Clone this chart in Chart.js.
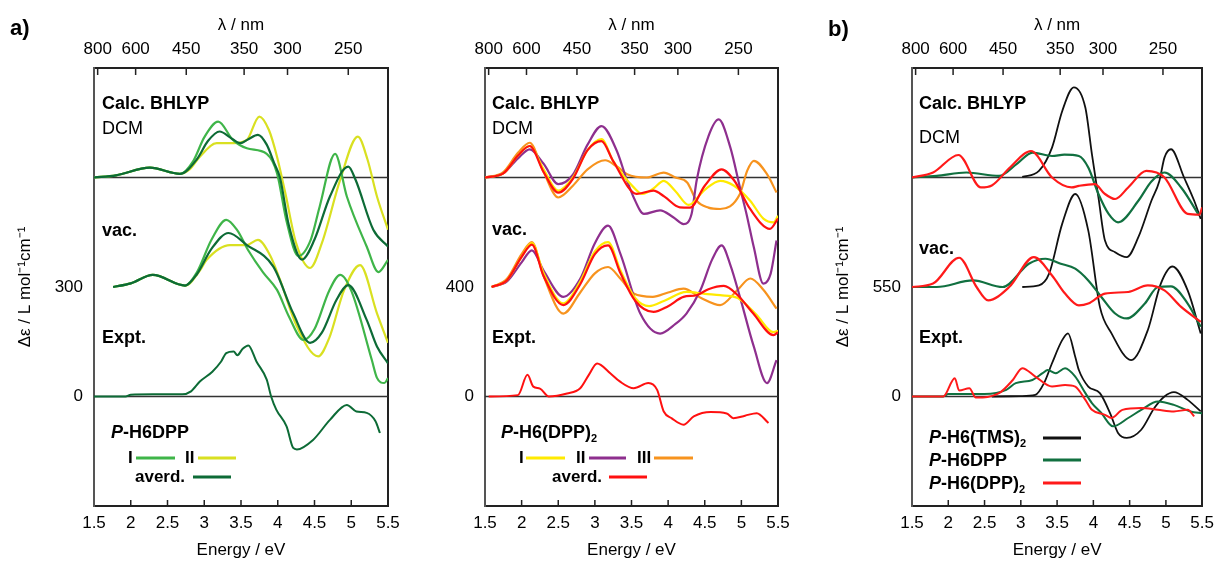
<!DOCTYPE html>
<html>
<head>
<meta charset="utf-8">
<script src="https://cdn.jsdelivr.net/npm/chart.js@4.4.0/dist/chart.umd.min.js"></script>
<style>
html,body{margin:0;padding:0;background:#fff;}
#wrap{position:relative;width:1221px;height:561px;overflow:hidden;font-family:'Liberation Sans',Arial,sans-serif;color:#000;}
canvas{position:absolute;top:0;}
.t{position:absolute;line-height:1;transform:translateY(-50%);white-space:nowrap;font-size:18px;}
.b{font-weight:bold;}
.s{font-size:17px;}
.ln{position:absolute;height:3px;transform:translateY(-50%);}
sub{font-size:11px;vertical-align:-4px;line-height:0;}
</style>
</head>
<body>
<div id="wrap">
  <canvas id="cA" width="420" height="561" style="left:0"></canvas>
  <canvas id="cB" width="380" height="561" style="left:420px"></canvas>
  <canvas id="cC" width="421" height="561" style="left:800px"></canvas>

  <div class="t b" style="left:10px;top:28px;font-size:22px">a)</div>
  <div class="t b" style="left:828px;top:29px;font-size:22px">b)</div>

  <!-- panel a -->
  <div class="t b" style="left:102px;top:103px">Calc. BHLYP</div>
  <div class="t" style="left:102px;top:128px">DCM</div>
  <div class="t b" style="left:102px;top:230px">vac.</div>
  <div class="t b" style="left:102px;top:337px">Expt.</div>
  <div class="t b" style="left:111px;top:432px"><i>P</i>-H6DPP</div>
  <div class="t b s" style="left:128px;top:457px">I</div>
  <div class="ln" style="left:136px;top:458px;width:39px;background:#3fb549"></div>
  <div class="t b s" style="left:185px;top:457px">II</div>
  <div class="ln" style="left:198px;top:458px;width:38px;background:#d9e021"></div>
  <div class="t b s" style="left:135px;top:476px">averd.</div>
  <div class="ln" style="left:193px;top:477px;width:38px;background:#0d6b36"></div>

  <!-- panel b middle -->
  <div class="t b" style="left:492px;top:103px">Calc. BHLYP</div>
  <div class="t" style="left:492px;top:128px">DCM</div>
  <div class="t b" style="left:492px;top:229px">vac.</div>
  <div class="t b" style="left:492px;top:337px">Expt.</div>
  <div class="t b" style="left:501px;top:432px"><i>P</i>-H6(DPP)<sub>2</sub></div>
  <div class="t b s" style="left:519px;top:457px">I</div>
  <div class="ln" style="left:526px;top:458px;width:39px;background:#ffea00"></div>
  <div class="t b s" style="left:576px;top:457px">II</div>
  <div class="ln" style="left:589px;top:458px;width:37px;background:#8e2f8e"></div>
  <div class="t b s" style="left:637px;top:457px">III</div>
  <div class="ln" style="left:654px;top:458px;width:39px;background:#f7931e"></div>
  <div class="t b s" style="left:552px;top:476px">averd.</div>
  <div class="ln" style="left:609px;top:477px;width:38px;background:#ff1010"></div>

  <!-- panel b right -->
  <div class="t b" style="left:919px;top:103px">Calc. BHLYP</div>
  <div class="t" style="left:919px;top:137px">DCM</div>
  <div class="t b" style="left:919px;top:248px">vac.</div>
  <div class="t b" style="left:919px;top:337px">Expt.</div>
  <div class="t b" style="left:929px;top:437px"><i>P</i>-H6(TMS)<sub>2</sub></div>
  <div class="ln" style="left:1043px;top:438px;width:38px;background:#111"></div>
  <div class="t b" style="left:929px;top:460px"><i>P</i>-H6DPP</div>
  <div class="ln" style="left:1043px;top:460px;width:38px;background:#117040"></div>
  <div class="t b" style="left:929px;top:483px"><i>P</i>-H6(DPP)<sub>2</sub></div>
  <div class="ln" style="left:1043px;top:483px;width:38px;background:#ff1a1a"></div>
</div>

<script>
// ── axes ──────────────────────────────────────────────────────────────
const energyTicks = [1.5, 2, 2.5, 3, 3.5, 4, 4.5, 5, 5.5];
const lambdaTicks = [800, 600, 450, 350, 300, 250];
const HC = 1239.84;  // eV*nm

// ── panel a: P-H6DPP  ([energy eV, Δε]) ───────────────────────────────
const aDcmI   = [[1.5,600],[1.8,606],[2.26,627],[2.67,610],[2.85,645],[3.0,710],[3.19,753],[3.39,703],[3.58,680],[3.85,665],[3.99,612],[4.12,480],[4.28,385],[4.45,430],[4.57,520],[4.78,665],[4.94,548],[5.21,411],[5.37,341],[5.5,374]];
const aDcmII  = [[1.5,600],[1.8,606],[2.26,627],[2.67,610],[2.8,622],[2.94,657],[3.17,694],[3.40,694],[3.58,703],[3.75,767],[3.88,730],[3.99,657],[4.1,560],[4.25,420],[4.44,352],[4.6,420],[4.85,594],[5.09,712],[5.22,650],[5.35,548],[5.5,457]];
const aDcmAvg = [[1.5,600],[1.8,606],[2.26,627],[2.67,610],[2.9,650],[3.05,700],[3.21,726],[3.35,710],[3.49,694],[3.6,705],[3.73,717],[3.85,690],[3.95,640],[4.03,600],[4.15,470],[4.33,375],[4.5,430],[4.71,548],[4.96,630],[5.06,593],[5.30,457],[5.5,411]];
const aVacI   = [[1.76,300],[2.0,310],[2.30,333],[2.74,304],[2.9,340],[3.1,430],[3.30,484],[3.45,455],[3.6,400],[3.8,340],[3.99,292],[4.15,220],[4.35,155],[4.5,185],[4.7,290],[4.85,333],[5.0,290],[5.28,100],[5.35,51],[5.45,37],[5.5,50]];
const aVacII  = [[1.76,300],[2.0,310],[2.30,333],[2.74,304],[2.94,345],[3.03,374],[3.35,415],[3.58,415],[3.73,429],[3.9,385],[4.03,320],[4.26,192],[4.55,110],[4.7,160],[4.9,290],[5.12,360],[5.35,228],[5.5,147]];
const aVacAvg = [[1.76,300],[2.0,310],[2.30,333],[2.74,304],[2.9,335],[3.1,405],[3.33,448],[3.58,415],[3.94,356],[4.21,228],[4.44,147],[4.6,175],[4.8,265],[4.96,305],[5.21,210],[5.35,137],[5.5,91]];
const aExpt   = [[1.5,0],[1.93,0],[2.0,5],[2.3,6],[2.7,6],[2.82,14],[2.94,41],[3.11,68],[3.23,96],[3.30,119],[3.40,123],[3.45,113],[3.52,130],[3.60,140],[3.71,96],[3.85,46],[3.91,0],[3.98,-36],[4.12,-82],[4.21,-141],[4.26,-145],[4.48,-119],[4.71,-64],[4.94,-23],[5.07,-41],[5.21,-45],[5.33,-68],[5.39,-100]];
const aBaselines = [0, 600];
const aYTicks = [0, 300];

// ── panel b (middle): P-H6(DPP)2 ──────────────────────────────────────
const bDcmI   = [[1.5,800],[1.75,815],[1.95,880],[2.11,915],[2.3,830],[2.50,752],[2.7,800],[2.9,900],[3.09,940],[3.25,860],[3.53,764],[3.65,740],[3.80,760],[3.94,788],[4.1,750],[4.28,700],[4.5,755],[4.71,788],[4.9,770],[5.12,715],[5.3,650],[5.44,636],[5.5,660]];
const bDcmII  = [[1.5,800],[1.75,815],[1.95,870],[2.11,903],[2.3,850],[2.50,776],[2.7,810],[2.9,920],[3.09,988],[3.30,897],[3.44,788],[3.53,727],[3.67,667],[3.89,680],[4.07,655],[4.21,630],[4.32,667],[4.39,790],[4.55,950],[4.69,1012],[4.85,909],[4.98,764],[5.07,667],[5.17,545],[5.30,412],[5.40,449],[5.48,570]];
const bDcmIII = [[1.5,800],[1.75,820],[1.95,890],[2.11,927],[2.3,820],[2.50,727],[2.7,770],[2.9,830],[3.14,863],[3.30,840],[3.44,812],[3.71,800],[3.94,818],[4.1,800],[4.26,782],[4.39,715],[4.55,690],[4.71,685],[4.98,740],[5.08,825],[5.17,861],[5.35,812],[5.48,745]];
const bDcmAvg = [[1.5,800],[1.75,815],[1.95,880],[2.11,915],[2.3,820],[2.50,745],[2.7,795],[2.9,900],[3.09,933],[3.25,860],[3.57,740],[3.80,752],[3.95,730],[4.16,691],[4.3,690],[4.5,770],[4.73,830],[4.9,790],[5.12,685],[5.39,612],[5.5,650]];
const bVacI   = [[1.59,400],[1.8,425],[2.0,510],[2.14,560],[2.3,450],[2.57,340],[2.8,420],[3.0,530],[3.18,564],[3.35,460],[3.55,360],[3.74,330],[3.95,350],[4.25,382],[4.5,375],[4.71,370],[4.95,360],[5.2,300],[5.44,235],[5.5,240]];
const bVacII  = [[1.59,400],[1.8,420],[2.0,490],[2.14,534],[2.3,460],[2.57,364],[2.8,430],[3.0,560],[3.18,624],[3.35,520],[3.62,303],[3.89,230],[4.1,265],[4.25,303],[4.44,388],[4.6,500],[4.73,552],[4.85,480],[4.98,364],[5.17,182],[5.35,49],[5.48,133]];
const bVacIII = [[1.59,400],[1.8,430],[2.0,520],[2.14,564],[2.3,440],[2.57,303],[2.8,380],[3.0,450],[3.18,473],[3.35,430],[3.53,376],[3.79,364],[4.0,380],[4.21,394],[4.45,360],[4.71,334],[4.95,390],[5.12,431],[5.3,390],[5.48,321]];
const bVacAvg = [[1.59,400],[1.8,425],[2.0,510],[2.14,555],[2.3,440],[2.57,334],[2.8,410],[3.0,520],[3.18,552],[3.35,450],[3.55,350],[3.80,309],[4.0,330],[4.21,364],[4.39,370],[4.55,392],[4.76,404],[4.95,370],[5.16,304],[5.44,224],[5.5,235]];
const bExpt   = [[1.55,0],[1.95,5],[2.08,79],[2.16,36],[2.25,29],[2.37,0],[2.62,11],[2.80,30],[2.92,80],[3.03,121],[3.21,85],[3.34,55],[3.53,30],[3.73,49],[3.85,24],[3.94,-55],[4.05,-80],[4.21,-103],[4.35,-73],[4.58,-57],[4.8,-62],[4.89,-79],[5.05,-70],[5.21,-61],[5.37,-97]];
const bBaselines = [0, 800];
const bYTicks = [0, 400];

// ── panel b (right): comparison ───────────────────────────────────────
const cDcmTms  = [[3.02,1103],[3.25,1133],[3.43,1250],[3.57,1433],[3.73,1553],[3.89,1450],[3.98,1217],[4.07,1000],[4.16,783],[4.30,725],[4.46,700],[4.62,800],[4.80,983],[4.91,1083],[4.98,1200],[5.07,1242],[5.25,1100],[5.39,983],[5.48,892]];
const cDcmDpp  = [[1.5,1100],[1.84,1108],[2.25,1125],[2.70,1108],[2.95,1170],[3.16,1225],[3.43,1208],[3.60,1215],[3.80,1208],[3.93,1150],[4.07,1017],[4.21,917],[4.34,875],[4.62,983],[4.8,1080],[4.98,1125],[5.21,1050],[5.46,908]];
const cDcmDpp2 = [[1.5,1100],[1.79,1125],[2.14,1213],[2.45,1050],[2.6,1060],[2.85,1150],[3.14,1233],[3.43,1100],[3.70,1050],[3.80,1058],[4.02,1067],[4.15,1020],[4.30,992],[4.48,1050],[4.73,1133],[4.98,1100],[5.30,917],[5.46,913],[5.5,950]];
const cVacTms  = [[3.02,550],[3.25,558],[3.39,617],[3.57,867],[3.75,1017],[3.93,833],[4.09,450],[4.25,317],[4.52,183],[4.75,333],[4.93,567],[5.09,653],[5.30,533],[5.48,317]];
const cVacDpp  = [[1.5,550],[1.84,550],[2.34,583],[2.75,550],[3.11,667],[3.34,692],[3.55,667],[3.75,642],[3.93,583],[4.11,500],[4.30,417],[4.46,392],[4.71,467],[4.89,550],[5.07,553],[5.30,467],[5.48,350]];
const cVacDpp2 = [[1.5,550],[1.79,567],[2.15,697],[2.39,550],[2.55,483],[2.84,550],[3.18,700],[3.43,608],[3.61,517],[3.80,458],[3.93,467],[4.16,517],[4.48,525],[4.75,558],[4.98,533],[5.21,450],[5.48,375]];
const cExpTms  = [[2.6,0],[3.0,2],[3.2,8],[3.32,67],[3.43,167],[3.57,283],[3.65,317],[3.75,200],[3.80,133],[3.93,50],[4.09,17],[4.23,-83],[4.34,-183],[4.46,-208],[4.66,-167],[4.84,-58],[4.98,0],[5.11,22],[5.30,-17],[5.48,-75]];
const cExpDpp  = [[1.5,0],[1.93,0],[2.0,12],[2.5,12],[2.80,33],[2.93,67],[3.16,83],[3.30,117],[3.37,133],[3.48,117],[3.61,142],[3.75,100],[3.89,17],[3.98,-33],[4.11,-83],[4.27,-150],[4.48,-108],[4.66,-67],[4.89,-25],[5.11,-42],[5.34,-75],[5.5,-85]];
const cExpDpp2 = [[1.5,0],[1.93,0],[2.09,92],[2.15,30],[2.29,42],[2.38,-5],[2.7,17],[2.89,83],[3.02,142],[3.20,100],[3.43,50],[3.61,58],[3.75,50],[3.89,-17],[3.98,-67],[4.16,-92],[4.25,-108],[4.4,-67],[4.66,-58],[4.89,-67],[5.11,-75],[5.3,-67],[5.39,-100]];
const cBaselines = [0, 1100];
const cYTicks = [0, 550];

const COL = {
  aI:'#3fb549', aII:'#d9e021', aAvg:'#0d6b36',
  bI:'#ffea00', bII:'#8e2f8e', bIII:'#f7931e', bAvg:'#ff1010',
  tms:'#111111', dpp:'#117040', dpp2:'#ff1a1a', axis:'#222222'
};

Chart.defaults.font.family = "'Liberation Sans', Arial, sans-serif";
Chart.defaults.color = '#000';

const pts = a => a.map(p => ({ x:p[0], y:p[1] }));
const curve = (data, color, w) => ({ data:pts(data), borderColor:color, borderWidth:w || 2.2,
  pointRadius:0, fill:false, cubicInterpolationMode:'monotone' });
const baseline = v => ({ data:[{ x:energyTicks[0], y:v }, { x:energyTicks[energyTicks.length-1], y:v }],
  borderColor:'#333', borderWidth:1.5, pointRadius:0 });

// inward tick marks on bottom and top axes
const innerTicks = {
  id:'innerTicks',
  afterDatasetsDraw(chart) {
    const { ctx, chartArea:a, scales } = chart;
    ctx.save();
    ctx.strokeStyle = COL.axis; ctx.lineWidth = 1.5;
    ctx.beginPath();
    scales.x.ticks.forEach(t => {
      const px = scales.x.getPixelForValue(t.value);
      if (px <= a.left + 2 || px >= a.right - 2) return;
      ctx.moveTo(px, a.bottom); ctx.lineTo(px, a.bottom - 6);
    });
    scales.x2.ticks.forEach(t => {
      const px = scales.x2.getPixelForValue(t.value);
      if (px >= a.right - 2) return;
      ctx.moveTo(px, a.top); ctx.lineTo(px, a.top + 7);
    });
    ctx.stroke();
    ctx.restore();
  }
};

function panel(id, datasets, o) {
  const lo = energyTicks[0], hi = energyTicks[energyTicks.length - 1];
  const font = { size:17 };
  const noGrid = { drawOnChartArea:false, drawTicks:false };
  const border = { display:true, color:COL.axis, width:2 };
  return new Chart(document.getElementById(id), {
    type:'line',
    data:{ datasets },
    plugins:[innerTicks],
    options:{
      responsive:false, animation:false, events:[],
      plugins:{ legend:{ display:false }, tooltip:{ enabled:false } },
      layout:{ padding:0 },
      scales:{
        x:{ type:'linear', position:'bottom', min:lo, max:hi,
          afterBuildTicks: s => { s.ticks = energyTicks.map(v => ({ value:v })); },
          ticks:{ autoSkip:false, maxRotation:0, padding:7, font, callback: v => String(v) },
          grid:noGrid, border,
          title:{ display:true, text:'Energy / eV', font, padding:{ top:0, bottom:0 } },
          afterFit: s => { s.height = 55; } },
        x2:{ type:'linear', position:'top', min:lo, max:hi,
          afterBuildTicks: s => { s.ticks = lambdaTicks.map(l => ({ value:HC / l })); },
          ticks:{ autoSkip:false, maxRotation:0, padding:8, font, callback: v => String(Math.round(HC / v / 50) * 50) },
          grid:noGrid, border,
          title:{ display:true, text:'λ / nm', font, padding:{ top:15, bottom:0 } },
          afterFit: s => { s.height = 68; } },
        y:{ type:'linear', position:'left', min:o.min, max:o.max,
          afterBuildTicks: s => { s.ticks = o.yTicks.map(v => ({ value:v })); },
          ticks:{ padding:11, font },
          grid:noGrid, border:{ display:true, color:'#555', width:2 },
          title:{ display:!!o.title, text:o.title || '', font, padding:{ top:o.titlePad || 0, bottom:0 } },
          afterFit: s => { s.width = o.left; } },
        yr:{ type:'linear', position:'right', min:o.min, max:o.max,
          ticks:{ display:false }, grid:noGrid, border,
          afterFit: s => { s.width = o.right; } }
      }
    }
  });
}

const yTitle = 'Δε / L mol⁻¹cm⁻¹';

panel('cA', [
  curve(aDcmAvg, COL.aAvg), curve(aDcmI, COL.aI), curve(aDcmII, COL.aII),
  curve(aVacAvg, COL.aAvg), curve(aVacI, COL.aI), curve(aVacII, COL.aII),
  curve(aExpt, COL.aAvg, 2),
  ...aBaselines.map(baseline)
], { min:-300, max:900, yTicks:aYTicks, left:94, right:32, title:yTitle, titlePad:15 });

panel('cB', [
  curve(bDcmAvg, COL.bAvg), curve(bDcmI, COL.bI), curve(bDcmII, COL.bII), curve(bDcmIII, COL.bIII),
  curve(bVacAvg, COL.bAvg), curve(bVacI, COL.bI), curve(bVacII, COL.bII), curve(bVacIII, COL.bIII),
  curve(bExpt, COL.bAvg, 2),
  ...bBaselines.map(baseline)
], { min:-400, max:1200, yTicks:bYTicks, left:65, right:22 });

panel('cC', [
  curve(cDcmDpp2, COL.dpp2), curve(cDcmDpp, COL.dpp), curve(cDcmTms, COL.tms, 1.8),
  curve(cVacDpp2, COL.dpp2), curve(cVacDpp, COL.dpp), curve(cVacTms, COL.tms, 1.8),
  curve(cExpDpp2, COL.dpp2, 2), curve(cExpDpp, COL.dpp, 2), curve(cExpTms, COL.tms, 1.8),
  ...cBaselines.map(baseline)
], { min:-550, max:1650, yTicks:cYTicks, left:112, right:16, title:yTitle, titlePad:33 });
</script>
</body>
</html>
